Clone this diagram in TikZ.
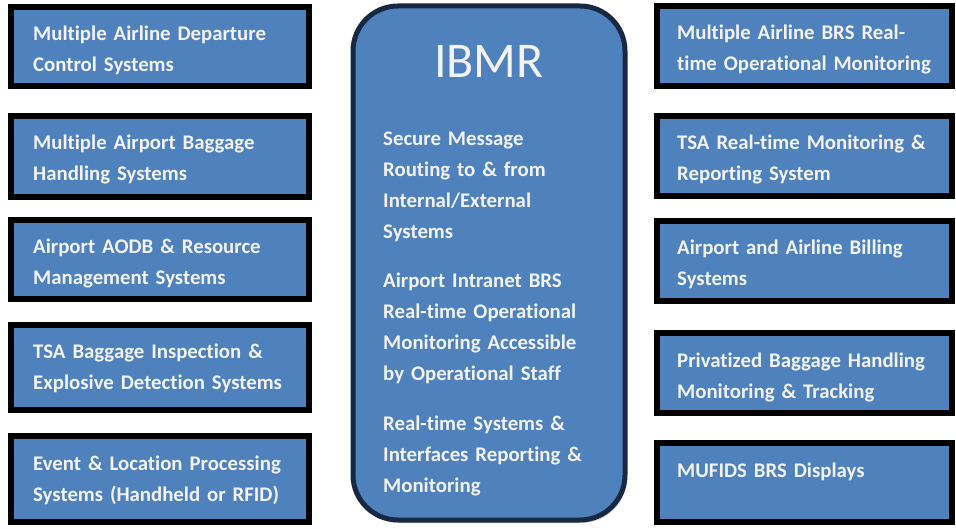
\documentclass[tikz,border=0pt]{standalone}
\usepackage{fontspec}
\setmainfont{Carlito}[Ligatures=NoCommon]
\usetikzlibrary{shadows}
\definecolor{sysblue}{RGB}{79,129,189}
\definecolor{darknavy}{RGB}{25,40,66}
\definecolor{offwhite}{RGB}{243,243,243}

\begin{document}
\begin{tikzpicture}[x=1pt,y=-1pt,
  sysbox/.style={draw=black,line width=6pt,fill=sysblue,
    drop shadow={shadow xshift=2pt,shadow yshift=-3pt,opacity=0.3}},
  systext/.style={anchor=base west,inner sep=0pt,text width=285pt,align=left,
    text=offwhite,font=\bfseries\fontsize{20.8}{31}\selectfont}]
\useasboundingbox[fill=white] (0,0) rectangle (956,529);

% left column
\foreach \i/\y/\h/\txt in {
  1/46.5/79/{Multiple Airline Departure\\Control Systems},
  2/156.5/81/{Multiple Airport Baggage\\Handling Systems},
  3/259.5/79/{Airport AODB \& Resource\\Management Systems},
  4/367.5/85/{TSA Baggage Inspection \&\\Explosive Detection Systems},
  5/479/86/{Event \& Location Processing\\Systems (Handheld or RFID)}} {
  \node[sysbox,minimum width=298pt,minimum height=\h pt] (left\i) at (160,\y) {};
  \node[systext] (lefttext\i) at ([xshift=25pt,yshift=-37pt]left\i.north west) {\txt};
}

% right column
\foreach \i/\y/\h/\txt in {
  1/46/80/{Multiple Airline BRS Real-\\time Operational Monitoring},
  2/156/80/{TSA Real-time Monitoring \&\\Reporting System},
  3/261/80/{Airport and Airline Billing\\Systems},
  4/373/80/{Privatized Baggage Handling\\Monitoring \& Tracking},
  5/482.5/79/{MUFIDS BRS Displays}} {
  \node[sysbox,minimum width=295pt,minimum height=\h pt] (right\i) at (804.5,\y) {};
  \node[systext] (righttext\i) at ([xshift=23pt,yshift=-37pt]right\i.north west) {\txt};
}

% IBMR
\node[draw=darknavy,line width=5pt,fill=sysblue,rounded corners=45pt,
  minimum width=272pt,minimum height=514pt,
  drop shadow={shadow xshift=2pt,shadow yshift=-3pt,opacity=0.3}] (ibmr) at (489,263) {};
\node[text=offwhite,font=\fontsize{50}{60}\selectfont,inner sep=0pt,anchor=base] (ibmrtitle) at (489,78) {IBMR};
\node[systext] (routing) at (383,146) {Secure Message\\Routing to \& from\\Internal/External\\Systems};
\node[systext] (intranet) at (383,288) {Airport Intranet BRS\\Real-time Operational\\Monitoring Accessible\\by Operational Staff};
\node[systext] (reporting) at (383,430) {Real-time Systems \&\\Interfaces Reporting \&\\Monitoring};
\end{tikzpicture}
\end{document}
